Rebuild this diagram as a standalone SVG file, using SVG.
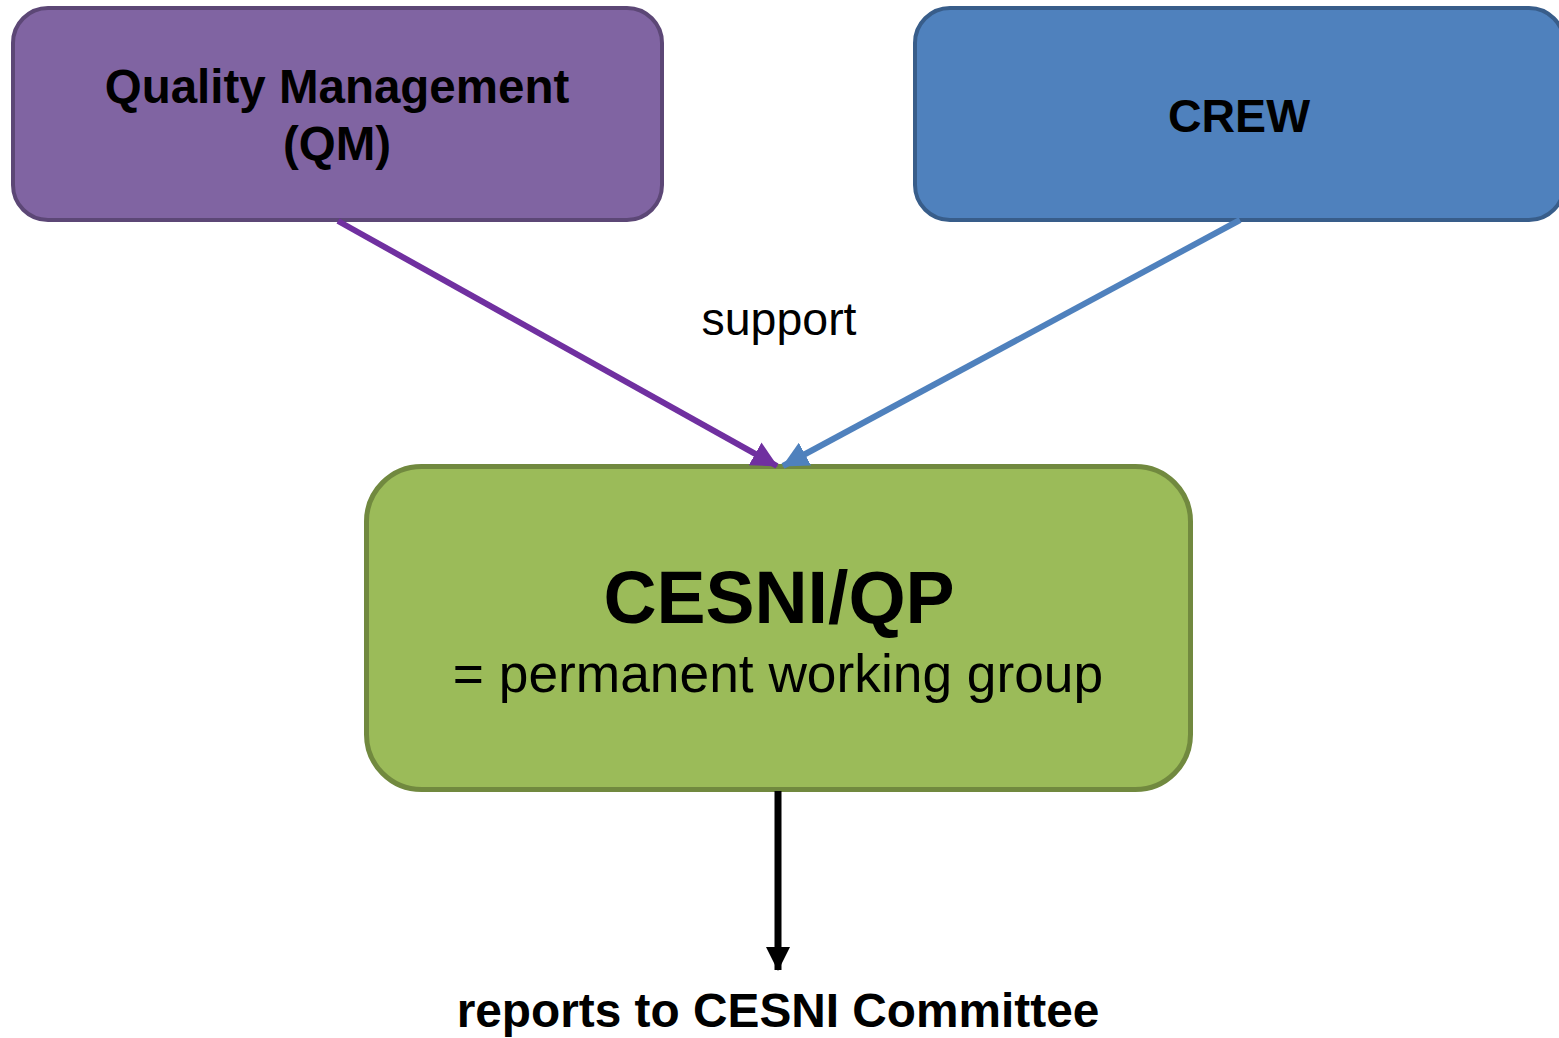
<svg xmlns="http://www.w3.org/2000/svg" width="1559" height="1038" viewBox="0 0 1559 1038">
  <style>
    .lbl { font-family: "Liberation Sans", Arial, sans-serif; fill: #000; text-anchor: middle; }
    .b { font-weight: bold; }
  </style>
  <defs>
    <marker id="ahPurple" viewBox="0 0 26 26" markerWidth="26" markerHeight="26" refX="25" refY="13" orient="auto" markerUnits="userSpaceOnUse">
      <path d="M0,0 L26,13 L0,26 z" fill="#7030a0"/>
    </marker>
    <marker id="ahBlue" viewBox="0 0 26 26" markerWidth="26" markerHeight="26" refX="25" refY="13" orient="auto" markerUnits="userSpaceOnUse">
      <path d="M0,0 L26,13 L0,26 z" fill="#4f81bd"/>
    </marker>
    <marker id="ahBlack" viewBox="0 0 24 24" markerWidth="24" markerHeight="24" refX="23" refY="12" orient="auto" markerUnits="userSpaceOnUse">
      <path d="M0,0 L24,12 L0,24 z" fill="#000"/>
    </marker>
  </defs>
  <rect width="1559" height="1038" fill="#fff"/>

  <!-- Quality Management -->
  <g id="qm">
    <rect x="13" y="8" width="649" height="212" rx="35" fill="#8064a2" stroke="#5c4776" stroke-width="4"/>
    <text class="lbl b" x="337" y="103" font-size="47.5">Quality Management</text>
    <text class="lbl b" x="337" y="160" font-size="47.5">(QM)</text>
  </g>

  <!-- CREW -->
  <g id="crew">
    <rect x="915" y="8" width="649" height="212" rx="35" fill="#4f81bd" stroke="#385d8a" stroke-width="4"/>
    <text class="lbl b" x="1239" y="132" font-size="46.5">CREW</text>
  </g>

  <!-- CESNI/QP -->
  <g id="cesni-qp">
    <rect x="366.5" y="466.5" width="824" height="323" rx="55" fill="#9bbb59" stroke="#71893f" stroke-width="5"/>
    <text class="lbl b" x="779" y="623" font-size="73.5">CESNI/QP</text>
    <text class="lbl" x="778" y="692" font-size="53.3">= permanent working group</text>
  </g>

  <!-- connectors, drawn over the node borders -->
  <g id="connectors" fill="none">
    <line x1="338" y1="221" x2="777" y2="466" stroke="#7030a0" stroke-width="6" marker-end="url(#ahPurple)"/>
    <line x1="1240" y1="220" x2="783" y2="466" stroke="#4f81bd" stroke-width="6" marker-end="url(#ahBlue)"/>
    <line x1="778" y1="791" x2="778" y2="970" stroke="#000" stroke-width="7" marker-end="url(#ahBlack)"/>
  </g>

  <!-- free labels -->
  <g id="support">
    <text class="lbl" x="779" y="335" font-size="46.5">support</text>
  </g>
  <g id="reports">
    <text class="lbl b" x="778" y="1027" font-size="47.8">reports to CESNI Committee</text>
  </g>
</svg>
